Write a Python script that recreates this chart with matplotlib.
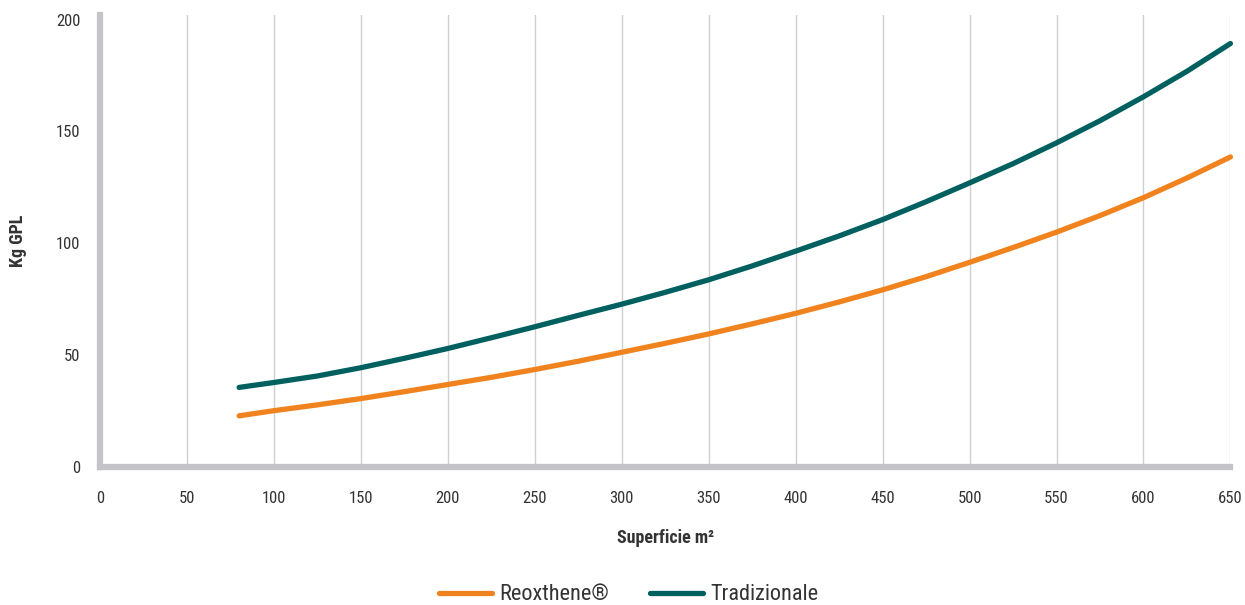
import matplotlib
matplotlib.use("Agg")
import matplotlib.pyplot as plt
from matplotlib import font_manager

# condensed face if the system has one, Roboto otherwise
names = {f.name for f in font_manager.fontManager.ttflist}
fams = [n for n in ['Liberation Sans Narrow', 'Roboto Condensed', 'DejaVu Sans Condensed'] if n in names]
plt.rcParams['font.family'] = fams + ['Roboto', 'DejaVu Sans']

# data
superficie = [80, 100, 125, 150, 175, 200, 225, 250, 275, 300, 325, 350,
              375, 400, 425, 450, 475, 500, 525, 550, 575, 600, 625, 650]
reoxthene = [22.9, 25.2, 27.8, 30.6, 33.7, 36.9, 40.1, 43.6, 47.3, 51.3, 55.3, 59.5,
             64.0, 68.7, 73.8, 79.2, 85.1, 91.5, 98.1, 105.0, 112.4, 120.4, 129.2, 138.6]
tradizionale = [35.6, 37.8, 40.7, 44.4, 48.6, 53.0, 57.8, 62.7, 67.8, 72.8, 78.1, 83.7,
                89.9, 96.5, 103.3, 110.6, 118.6, 127.0, 135.6, 144.9, 154.8, 165.5, 176.9, 189.3]
x_ticks = list(range(0, 651, 50))
y_ticks = [0, 50, 100, 150, 200]

orange = "#F0831E"
teal = "#005F5F"
spine_gray = "#C4C3C8"
text_col = "#333333"

fig = plt.figure(figsize=(12.45, 6.05), dpi=100)
ax = fig.add_axes([0.0803, 0.228, 0.908, 0.747])

ax.plot(superficie, reoxthene, color=orange, lw=3.8, solid_capstyle='round',
        solid_joinstyle='round', clip_on=False, zorder=3, label="Reoxthene®")
ax.plot(superficie, tradizionale, color=teal, lw=3.8, solid_capstyle='round',
        solid_joinstyle='round', clip_on=False, zorder=3, label="Tradizionale")

ax.set_xlim(0, 650)
ax.set_ylim(0, 202)
ax.set_xticks(x_ticks)
ax.set_yticks(y_ticks)
ax.tick_params(length=0, labelsize=12, labelcolor=text_col)
ax.tick_params(axis='x', pad=17)
ax.tick_params(axis='y', pad=14)

ax.grid(axis='x', color="#D0D0D0", lw=1)
ax.set_axisbelow(True)
for s in ['top', 'right']:
    ax.spines[s].set_visible(False)
for s in ['left', 'bottom']:
    ax.spines[s].set_color(spine_gray)
    ax.spines[s].set_linewidth(4.5)
    ax.spines[s].set_zorder(4)

ax.set_xlabel("Superficie m²", fontsize=13, fontweight='bold', color=text_col, labelpad=17)
fig.text(18 / 1245, 1 - 241 / 605, "Kg GPL", rotation=90, ha='center', va='center',
         fontsize=13, fontweight='bold', color=text_col)

fig.legend(loc='center', bbox_to_anchor=(0.505, 1 - 595 / 605), ncol=2, frameon=False,
           fontsize=16, handlelength=2.4, columnspacing=1.8, handletextpad=0.35,
           labelcolor=text_col)

fig.savefig("out.png", dpi=100)
